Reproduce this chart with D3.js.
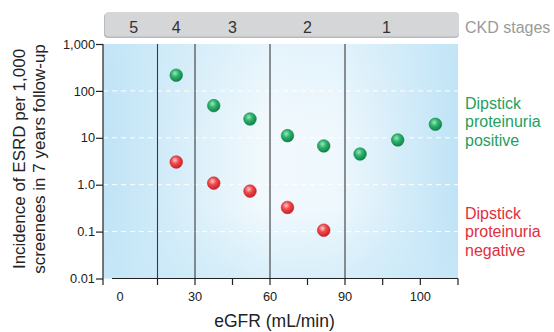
<!DOCTYPE html>
<html>
<head>
<meta charset="utf-8">
<script src="https://cdn.jsdelivr.net/npm/d3@7"></script>
<style>
  body { margin: 0; background: #fff; }
  svg { display: block; font-family: "Liberation Sans", Arial, sans-serif; }
</style>
</head>
<body>
<div class="chart"></div>
<script>
// data
const egfrPos = [22.5, 37.5, 52, 67, 81.5, 92, 97, 102];
const positiveRate = [216, 48.5, 25.2, 11.1, 6.7, 4.5, 9.0, 19.4];
const egfrNeg = [22.5, 37.5, 52, 67, 81.5];
const negativeRate = [3.04, 1.08, 0.73, 0.327, 0.107];

const stageNames = ['5', '4', '3', '2', '1'];
const stageLabelAt = [5.5, 22.5, 45, 75, 95.5];
const stageBounds = [15, 30, 60, 90];

const xTickValues = [0, 30, 60, 90, 100];
const xMinorTicks = [15, 30, 45, 60, 75, 90, 95, 100, 105];
const yTickValues = [1000, 100, 10, 1, 0.1, 0.01];
const yTickLabels = ['1,000', '100', '10', '1.0', '0.1', '0.01'];
const gridValues = [100, 10, 1, 0.1];

const W = 554, H = 332;
const plotL = 103, plotR = 458, plotT = 44, plotB = 278.5;

const svg = d3.select('.chart').append('svg').attr('width', W).attr('height', H);

// x axis is piecewise: 0-90 compressed, 90-105 stretched
const x = d3.scaleLinear().domain([-6.8, 90, 105]).range([plotL, 345, plotR]);
const y = d3.scaleLog().domain([0.01, 1000]).range([plotB, plotT]);

const defs = svg.append('defs');
const bg = defs.append('linearGradient').attr('id', 'bg');
bg.append('stop').attr('offset', '0%').attr('stop-color', '#bfe3f6');
bg.append('stop').attr('offset', '45%').attr('stop-color', '#f1f9fd');
bg.append('stop').attr('offset', '65%').attr('stop-color', '#eff8fd');
bg.append('stop').attr('offset', '100%').attr('stop-color', '#bfe3f6');
const bgV = defs.append('linearGradient').attr('id', 'bgv').attr('x1', 0).attr('x2', 0).attr('y1', 0).attr('y2', 1);
bgV.append('stop').attr('offset', '0%').attr('stop-color', '#c8e8f8').attr('stop-opacity', 0.3);
bgV.append('stop').attr('offset', '35%').attr('stop-color', '#c8e8f8').attr('stop-opacity', 0);
bgV.append('stop').attr('offset', '70%').attr('stop-color', '#c8e8f8').attr('stop-opacity', 0);
bgV.append('stop').attr('offset', '100%').attr('stop-color', '#c8e8f8').attr('stop-opacity', 0.6);

function ball(id, light, mid, dark) {
  const g = defs.append('radialGradient').attr('id', id)
    .attr('cx', '40%').attr('cy', '35%').attr('r', '65%');
  g.append('stop').attr('offset', '0%').attr('stop-color', light);
  g.append('stop').attr('offset', '45%').attr('stop-color', mid);
  g.append('stop').attr('offset', '100%').attr('stop-color', dark);
}
ball('gball', '#9fe6bd', '#2bb46c', '#12804a');
ball('rball', '#ffc9c9', '#f04a4a', '#c8202a');

// plot background
svg.append('rect').attr('x', plotL).attr('y', plotT).attr('width', plotR - plotL).attr('height', plotB - plotT)
  .attr('fill', 'url(#bg)');
svg.append('rect').attr('x', plotL).attr('y', plotT).attr('width', plotR - plotL).attr('height', plotB - plotT)
  .attr('fill', 'url(#bgv)');

// dashed white gridlines
svg.append('g').selectAll('line').data(gridValues).enter().append('line')
  .attr('x1', plotL).attr('x2', plotR)
  .attr('y1', d => y(d)).attr('y2', d => y(d))
  .attr('stroke', '#fff').attr('stroke-width', 1).attr('stroke-dasharray', '5,4');

// stage boundaries
svg.append('g').selectAll('line').data(stageBounds).enter().append('line')
  .attr('x1', d => x(d)).attr('x2', d => x(d))
  .attr('y1', plotT).attr('y2', plotB)
  .attr('stroke', '#3a3a3a').attr('stroke-width', 1.1);

// stage band
svg.append('rect').attr('x', plotL + 1).attr('y', 13).attr('width', plotR - plotL).attr('height', 25)
  .attr('rx', 4).attr('fill', '#b9babd');
svg.append('rect').attr('x', plotL + 2).attr('y', 12).attr('width', plotR - plotL - 1).attr('height', 24.5)
  .attr('rx', 4).attr('fill', '#d5d6d8');
svg.append('g').selectAll('text').data(stageNames).enter().append('text')
  .attr('x', (d, i) => x(stageLabelAt[i])).attr('y', 32.5)
  .attr('text-anchor', 'middle').attr('font-size', 16).attr('fill', '#333')
  .text(d => d);
svg.append('text').attr('x', 465).attr('y', 33).attr('font-size', 16).attr('fill', '#9a9a9a')
  .text('CKD stages');

// y axis
const yAxis = d3.axisLeft(y).tickValues(yTickValues)
  .tickFormat((d, i) => yTickLabels[i]).tickSizeInner(7).tickSizeOuter(0);
const yg = svg.append('g').attr('transform', `translate(${plotL},0)`).call(yAxis);
yg.select('.domain').remove();
yg.append('line').attr('x1', 0).attr('x2', 0).attr('y1', plotT).attr('y2', plotB + 6.5)
  .attr('stroke', '#222').attr('stroke-width', 1.2);
yg.selectAll('.tick line').attr('stroke', '#222').attr('stroke-width', 1.2);
yg.selectAll('.tick text').attr('font-size', 12.8).attr('fill', '#222').attr('x', -8)
  .style('font-family', '"Liberation Sans", Arial, sans-serif');

// x axis
const xg = svg.append('g').attr('transform', `translate(0,${plotB})`);
xg.append('line').attr('x1', 112).attr('x2', plotR).attr('y1', 0).attr('y2', 0)
  .attr('stroke', '#222').attr('stroke-width', 1.2);
xg.selectAll('.minor').data(xMinorTicks).enter().append('line').attr('class', 'minor')
  .attr('x1', d => x(d)).attr('x2', d => x(d)).attr('y1', 0).attr('y2', 6.5)
  .attr('stroke', '#222').attr('stroke-width', 1.2);
xg.selectAll('.lbl').data(xTickValues).enter().append('text').attr('class', 'lbl')
  .attr('x', d => x(d)).attr('y', 22).attr('text-anchor', 'middle')
  .attr('font-size', 12.8).attr('fill', '#222').text(d => d);

// axis titles
svg.append('text').attr('x', 274.5).attr('y', 326.5).attr('text-anchor', 'middle')
  .attr('font-size', 17.5).attr('fill', '#222').text('eGFR (mL/min)');
const yt = svg.append('text').attr('transform', 'translate(0,159) rotate(-90)')
  .attr('text-anchor', 'middle').attr('font-size', 17).attr('fill', '#222');
yt.append('tspan').attr('x', 0).attr('y', 25).text('Incidence of ESRD per 1,000');
yt.append('tspan').attr('x', 0).attr('y', 44.5).text('screenees in 7 years follow-up');

// points
const posData = egfrPos.map((e, i) => ({ egfr: e, rate: positiveRate[i] }));
const negData = egfrNeg.map((e, i) => ({ egfr: e, rate: negativeRate[i] }));
svg.append('g').selectAll('circle').data(posData).enter().append('circle')
  .attr('cx', d => x(d.egfr)).attr('cy', d => y(d.rate)).attr('r', 6.3)
  .attr('fill', 'url(#gball)').attr('stroke', '#138a4c').attr('stroke-width', 0.6);
svg.append('g').selectAll('circle').data(negData).enter().append('circle')
  .attr('cx', d => x(d.egfr)).attr('cy', d => y(d.rate)).attr('r', 6.3)
  .attr('fill', 'url(#rball)').attr('stroke', '#c81e28').attr('stroke-width', 0.6);

// series labels
function seriesLabel(lines, y0, color) {
  const t = svg.append('text').attr('font-size', 16).attr('fill', color);
  lines.forEach((s, i) => t.append('tspan').attr('x', 465).attr('y', y0 + i * 18.7).text(s));
}
seriesLabel(['Dipstick', 'proteinuria', 'positive'], 108.5, '#1fa05e');
seriesLabel(['Dipstick', 'proteinuria', 'negative'], 218.5, '#e0303c');
</script>
</body>
</html>
